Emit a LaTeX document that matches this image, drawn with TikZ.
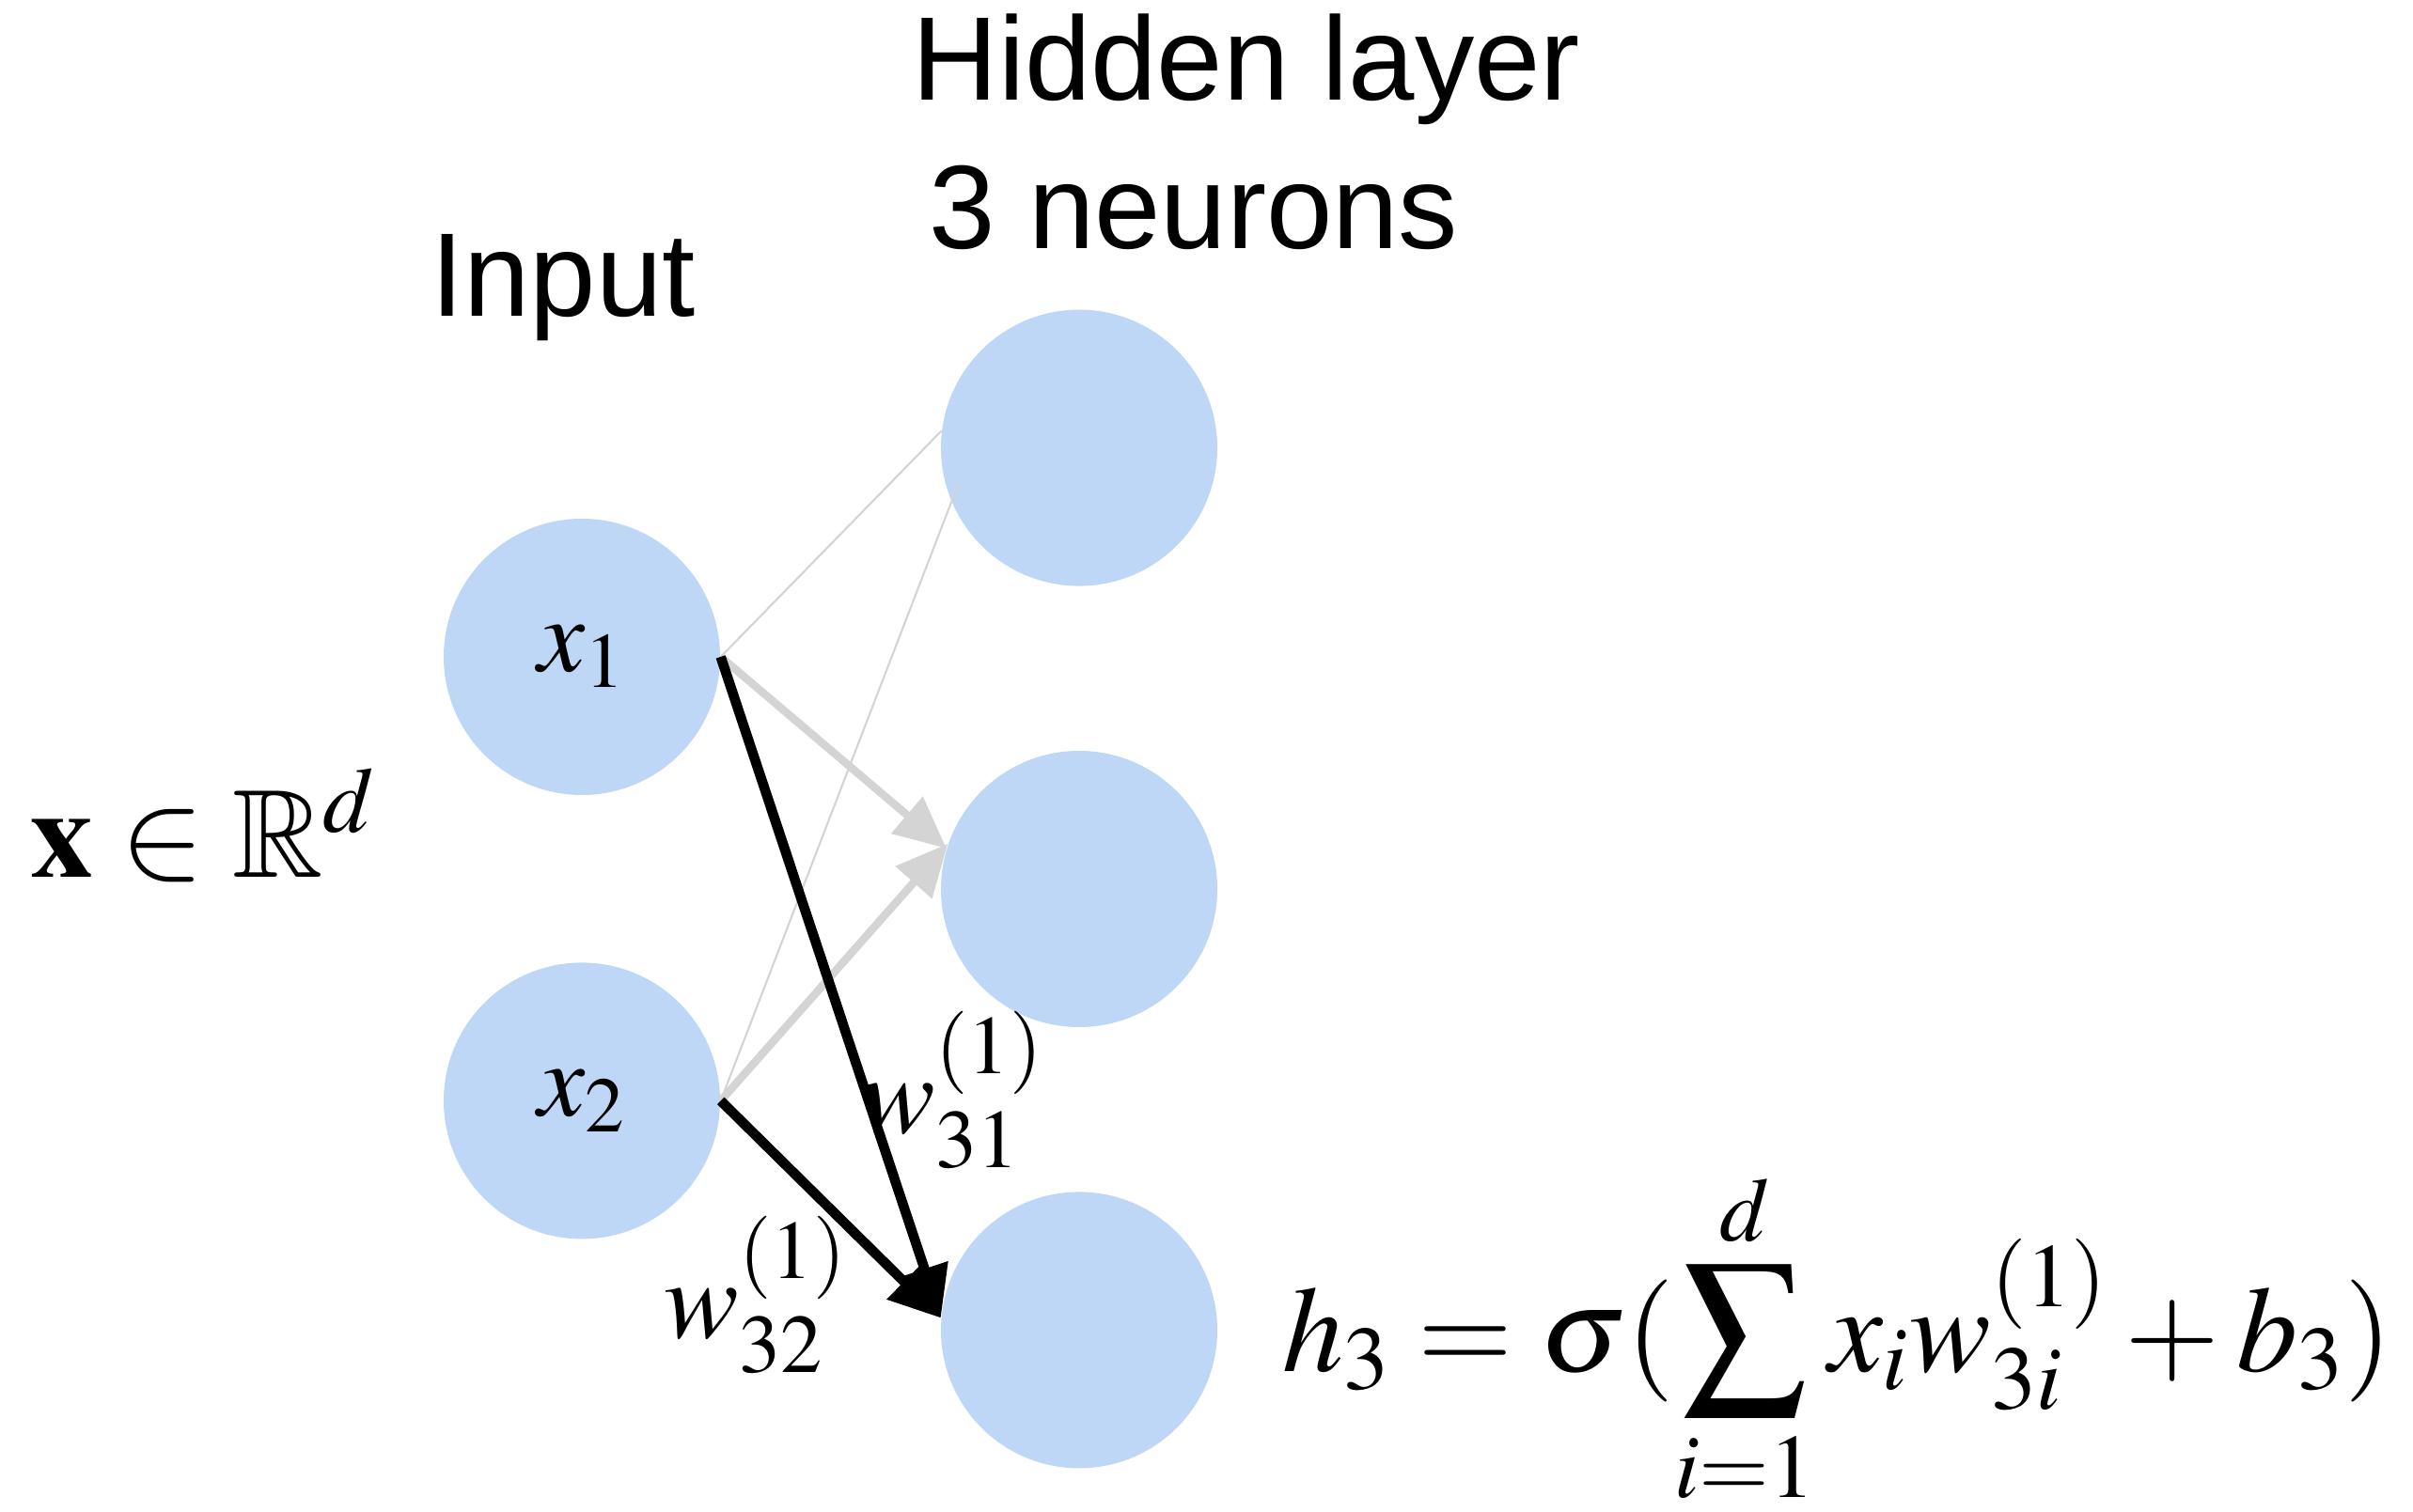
\documentclass[tikz,border=0pt]{standalone}
\usepackage{amsmath}
\usepackage{mathptmx}
\usepackage{amssymb}
\usepackage[no-math]{fontspec}
\newfontfamily\helv{Liberation Sans}
\usepackage{tikz}
\usetikzlibrary{positioning,arrows.meta}
\definecolor{NeuronBlue}{RGB}{190,215,246}
\definecolor{EdgeGray}{RGB}{212,212,212}

\begin{document}
\begin{tikzpicture}[node distance=1.75cm,every node/.style={font=\fontsize{32}{38}\selectfont},
  neuron/.style={circle,fill=NeuronBlue,minimum size=2.94cm,inner sep=0pt},
  thinedge/.style={EdgeGray,line width=0.6pt},
  grayedge/.style={-{Triangle[length=0.55cm,width=0.5cm]},EdgeGray,line width=2.4pt},
  blackedge/.style={-{Triangle[length=0.55cm,width=0.5cm]},black,line width=3pt}]
\useasboundingbox (0,0) rectangle (25.67,16.08);
\node[neuron] (x1) at (6.19,9.09) {$x_1$};
\node[neuron,below=1.77cm of x1] (x2) {$x_2$};
\node[neuron] (h2) at (11.48,6.62) {};
\node[neuron,above=1.74cm of h2] (h1) {};
\node[neuron,below=1.74cm of h2] (h3) {};
\node[font=\helv\fontsize{36}{40}\selectfont] (inlab) at (5.99,13.02) {Input};
\node[font=\helv\fontsize{36}{40}\selectfont] (hidlab) at (13.26,15.34) {Hidden layer};
\node[font=\helv\fontsize{36}{40}\selectfont] (hidnum) at (12.70,13.87) {3 neurons};
\node[font=\fontsize{38}{42}\selectfont] (space) at (2.16,7.30) {$\mathbf{x}\in\mathbb{R}^d$};
\draw[thinedge] (x1.east) -- (h1.173);
\draw[thinedge,shorten >=-0.2cm] (x2.east) -- (h1.203);
\draw[grayedge] (x1.east) -- (h2.163);
\draw[grayedge] (x2.east) -- (h2.161);
\draw[blackedge] (x1.east) -- (h3.175);
\draw[blackedge] (x2.east) -- (h3.175);
\node[font=\fontsize{34}{40}\selectfont] (w31) at (10.13,4.48) {$w_{31}^{(1)}$};
\node[font=\fontsize{34}{40}\selectfont] (w32) at (8.04,2.30) {$w_{32}^{(1)}$};
\node[font=\fontsize{37}{42}\selectfont,anchor=west] (hout) at (13.52,1.84) {$\displaystyle h_3=\sigma(\sum_{i=1}^{d}x_iw_{3i}^{(1)}+b_3)$};
\end{tikzpicture}
\end{document}
